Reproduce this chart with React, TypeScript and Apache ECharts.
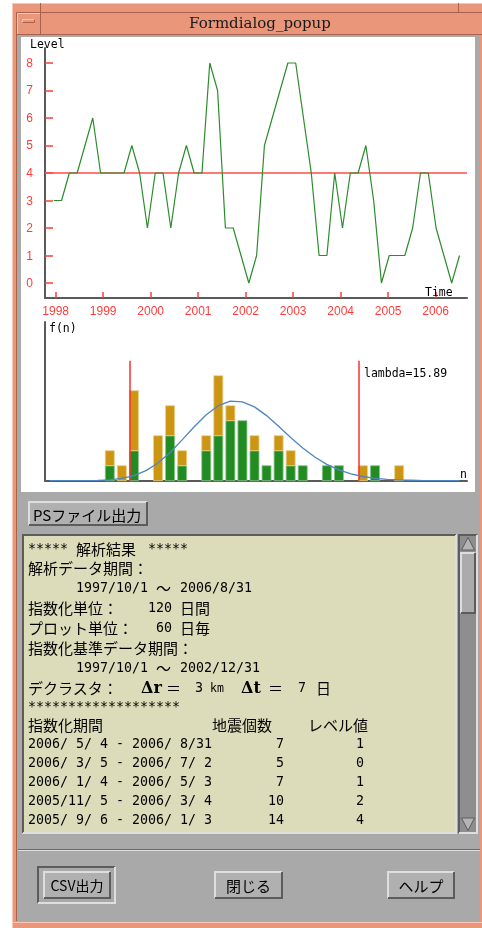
import React, { useEffect, useRef } from "react";
import * as echarts from "echarts";

// ---------------- data ----------------
const plotDates = [
  "1997-12-17", "1998-02-15", "1998-04-16", "1998-06-15", "1998-08-14", "1998-10-13", "1998-12-12",
  "1999-02-10", "1999-04-11", "1999-06-10", "1999-08-09", "1999-10-08", "1999-12-07",
  "2000-02-05", "2000-04-05", "2000-06-04", "2000-08-03", "2000-10-02", "2000-12-01",
  "2001-01-30", "2001-03-31", "2001-05-30", "2001-07-29", "2001-09-27", "2001-11-26",
  "2002-01-25", "2002-03-26", "2002-05-25", "2002-07-24", "2002-09-22", "2002-11-21",
  "2003-01-20", "2003-03-21", "2003-05-20", "2003-07-19", "2003-09-17", "2003-11-16",
  "2004-01-15", "2004-03-15", "2004-05-14", "2004-07-13", "2004-09-11", "2004-11-10",
  "2005-01-09", "2005-03-10", "2005-05-09", "2005-07-08", "2005-09-06", "2005-11-05",
  "2006-01-04", "2006-03-05", "2006-05-04", "2006-07-03",
];
const levelValues = [
  3, 3, 4, 4, 5, 6, 4,
  4, 4, 4, 5, 4, 2,
  4, 4, 2, 4, 5, 4,
  4, 8, 7, 2, 2, 1,
  0, 1, 5, 6, 7, 8,
  8, 6, 4, 1, 1, 4,
  2, 4, 4, 5, 3, 0,
  1, 1, 1, 2, 4, 4,
  2, 1, 0, 1,
];
const levelTicks = [0, 1, 2, 3, 4, 5, 6, 7, 8];
const yearTicks = [1998, 1999, 2000, 2001, 2002, 2003, 2004, 2005, 2006];
const baseLevel = 4;

const histN = [5, 6, 7, 9, 10, 11, 13, 14, 15, 16, 17, 18, 19, 20, 21, 23, 24, 26, 27, 29];
const histRef = [1, 0, 2, 0, 3, 1, 2, 3, 4, 4, 2, 1, 2, 1, 1, 1, 1, 0, 1, 0];
const histLater = [1, 1, 4, 3, 2, 1, 1, 4, 1, 0, 1, 0, 1, 1, 0, 0, 0, 1, 0, 1];
const fitN = [0, 1, 2, 3, 4, 5, 6, 7, 8, 9, 10, 11, 12, 13, 14, 15, 16, 17, 18, 19, 20, 21, 22, 23, 24, 25, 26, 27, 28, 29, 30, 31, 32, 33, 34];
const fitF = [0, 0, 0, 0, 0.02, 0.06, 0.15, 0.34, 0.67, 1.18, 1.88, 2.72, 3.6, 4.4, 5.0, 5.3, 5.26, 4.92, 4.34, 3.63, 2.88, 2.18, 1.58, 1.09, 0.72, 0.46, 0.28, 0.16, 0.09, 0.05, 0.03, 0.01, 0.01, 0, 0];
const thresholdN = [7, 26];
const thresholdHeight = 8;
const lambdaValue = 15.89;

const tablePeriods = [
  "2006/ 5/ 4 - 2006/ 8/31",
  "2006/ 3/ 5 - 2006/ 7/ 2",
  "2006/ 1/ 4 - 2006/ 5/ 3",
  "2005/11/ 5 - 2006/ 3/ 4",
  "2005/ 9/ 6 - 2006/ 1/ 3",
];
const tableCounts = [7, 5, 7, 10, 14];
const tableLevels = [1, 0, 1, 2, 4];

const headerLines = [
  "***** 解析結果 *****",
  "解析データ期間：",
  "      1997/10/1 ～ 2006/8/31",
  "指数化単位：   120 日間",
  "プロット単位：  60 日毎",
  "指数化基準データ期間：",
  "      1997/10/1 ～ 2002/12/31",
];
const starLine = "*******************";
const tableHeader = "指数化期間             地震個数    レベル値";

// ---------------- style ----------------
const SALMON = "#E9967A";
const SALMON_LIGHT = "#F7C7B3";
const SALMON_DARK = "#A8614A";
const GRAY = "#A9A9A9";
const LIGHT = "#DEDEDE";
const DARK = "#5C5C5C";
const TEXTBG = "#DCDCBB";
const MONO = "'DejaVu Sans Mono', monospace";
const CJK = "'Noto Sans CJK JP', sans-serif";
const RED = "#FF3B3B";
const BAR_SPAN = 0.75;

function toYear(s: string) {
  const [y, m, d] = s.split("-").map(Number);
  const a = Date.UTC(y, 0, 1);
  const b = Date.UTC(y + 1, 0, 1);
  return y + (Date.UTC(y, m - 1, d) - a) / (b - a);
}

function txt(text: string, x: number, y: number, o: any = {}) {
  const align = o.align || "left";
  return {
    type: "text",
    z: 20,
    silent: true,
    style: {
      text,
      x,
      y,
      fill: o.color || "#000",
      fontSize: o.fontSize || 13.3,
      fontFamily: o.fontFamily || MONO,
      fontWeight: o.fontWeight || "normal",
      align,
      verticalAlign: "middle",
      textAlign: align,
      textVerticalAlign: "middle",
    },
  };
}

function rect(x: number, y: number, w: number, h: number, fill: string, z = -20) {
  return { type: "rect", z, silent: true, shape: { x, y, width: w, height: h }, style: { fill } };
}

function pl(points: number[][], stroke: string, lw = 1, z = -15) {
  return { type: "polyline", z, silent: true, shape: { points }, style: { stroke, lineWidth: lw, fill: "none" } };
}

function bevel(x: number, y: number, w: number, h: number, raised: boolean, face: string | null, z = -18) {
  const tl = raised ? LIGHT : DARK;
  const br = raised ? DARK : LIGHT;
  const els: any[] = [];
  if (face) els.push(rect(x, y, w, h, face, z));
  els.push(pl([[x + 1, y + h - 1], [x + 1, y + 1], [x + w - 1, y + 1]], tl, 2, z + 1));
  els.push(pl([[x + w - 1, y + 1], [x + w - 1, y + h - 1], [x + 1, y + h - 1]], br, 2, z + 1));
  return els;
}

const CELL = 8;
const TX0 = 28;

function gridText(line: string, y: number, els: any[]) {
  let col = 0;
  let runStart = 0;
  let run = "";
  let runWide: boolean | null = null;
  const flush = () => {
    if (!run) return;
    if (runWide) {
      els.push(txt(run, TX0 + runStart * CELL, y, { fontFamily: CJK, fontSize: 15 }));
    } else {
      // split on runs of 2+ spaces, keep column positions
      const re = /\S+(?: \S+)*/g;
      let m: RegExpExecArray | null;
      while ((m = re.exec(run))) {
        els.push(txt(m[0], TX0 + (runStart + m.index) * CELL, y, { fontFamily: MONO, fontSize: 13.3 }));
      }
    }
    run = "";
  };
  for (const ch of line) {
    const wide = ch.charCodeAt(0) > 0x7f;
    if (wide !== runWide) {
      flush();
      runWide = wide;
      runStart = col;
    }
    run += ch;
    col += wide ? 2 : 1;
  }
  flush();
}

function buildGraphic() {
  const els: any[] = [];
  // page and window frame
  els.push(rect(0, 0, 482, 928, "#ffffff", -30));
  els.push(rect(12, 3, 470, 925, SALMON, -29));
  els.push(pl([[12.5, 928], [12.5, 3.5], [482, 3.5]], SALMON_LIGHT, 1, -28));
  els.push(pl([[16.5, 921], [16.5, 12.5], [482, 12.5]], SALMON_DARK, 1, -28));
  els.push(pl([[40.5, 3], [40.5, 12]], SALMON_DARK, 1, -28));
  els.push(pl([[458.5, 3], [458.5, 12]], SALMON_DARK, 1, -28));
  els.push(pl([[17, 34.5], [482, 34.5]], SALMON_DARK, 1, -28));
  els.push(pl([[13, 922.5], [482, 922.5]], SALMON_LIGHT, 1, -28));
  // menu button
  els.push(pl([[40.5, 13], [40.5, 34]], SALMON_DARK, 1, -27));
  els.push(pl([[17.5, 34], [17.5, 13.5], [40, 13.5]], SALMON_LIGHT, 1, -27));
  els.push(rect(22, 19, 13, 4, SALMON, -26));
  els.push(pl([[22.5, 23], [22.5, 19.5], [35, 19.5]], SALMON_LIGHT, 1, -25));
  els.push(pl([[34.5, 19.5], [34.5, 22.5], [22.5, 22.5]], SALMON_DARK, 1, -25));
  // title
  els.push(txt("Formdialog_popup", 260, 23, { fontFamily: "'DejaVu Serif', serif", fontSize: 15, align: "center", color: "#1a1a1a" }));

  // dialog gray area
  els.push(rect(17, 35, 463, 886, GRAY, -26));
  // chart panel
  els.push(rect(21, 37, 454, 455, "#ffffff", -24));

  // PS button
  els.push(...bevel(28, 501, 120, 25, true, "#B0B0B0"));
  els.push(txt("PSファイル出力", 33, 514, { fontFamily: CJK, fontSize: 15 }));

  // text area
  els.push(...bevel(22, 534, 435, 300, false, TEXTBG));
  // scrollbar
  els.push(...bevel(458, 534, 20, 300, false, "#8E8E8E"));
  els.push({ type: "polygon", z: -14, silent: true, shape: { points: [[461.5, 550], [468, 537.5], [474.5, 550]] }, style: { fill: "#B4B4B4", stroke: DARK, lineWidth: 1 } });
  els.push(...bevel(460, 552, 16, 62, true, "#ABABAB", -14));
  els.push({ type: "polygon", z: -14, silent: true, shape: { points: [[461.5, 818], [474.5, 818], [468, 830.5]] }, style: { fill: "#B4B4B4", stroke: DARK, lineWidth: 1 } });

  // separator
  els.push(pl([[18, 849.5], [480, 849.5]], "#6A6A6A", 1, -15));
  els.push(pl([[18, 850.5], [480, 850.5]], LIGHT, 1, -15));

  // bottom buttons
  els.push(...bevel(37, 866, 79, 38, false, null, -16));
  els.push(...bevel(43, 871, 68, 28, true, "#B0B0B0"));
  els.push(txt("CSV出力", 77, 885, { fontFamily: CJK, fontSize: 14, align: "center" }));
  els.push(...bevel(214, 871, 69, 28, true, "#B0B0B0"));
  els.push(txt("閉じる", 248.5, 885, { fontFamily: CJK, fontSize: 15, align: "center" }));
  els.push(...bevel(387, 871, 68, 28, true, "#B0B0B0"));
  els.push(txt("ヘルプ", 421, 885, { fontFamily: CJK, fontSize: 15, align: "center" }));

  // text area content
  const ys = [548, 567, 587, 607, 627, 647, 667];
  headerLines.forEach((l, i) => gridText(l, ys[i], els));
  // declustering line
  const yD = 687;
  gridText("デクラスタ：", yD, els);
  els.push(txt("Δr", 141, yD, { fontFamily: "'DejaVu Serif', serif", fontSize: 16, fontWeight: "bold" }));
  els.push(txt("＝", 166, yD, { fontFamily: CJK, fontSize: 15 }));
  els.push(txt("3", 195, yD, { fontFamily: MONO, fontSize: 13.3 }));
  els.push(txt("km", 210, yD + 1, { fontFamily: MONO, fontSize: 11.5 }));
  els.push(txt("Δt", 241, yD, { fontFamily: "'DejaVu Serif', serif", fontSize: 16, fontWeight: "bold" }));
  els.push(txt("＝", 268, yD, { fontFamily: CJK, fontSize: 15 }));
  els.push(txt("7", 298, yD, { fontFamily: MONO, fontSize: 13.3 }));
  els.push(txt("日", 316, yD, { fontFamily: CJK, fontSize: 15 }));
  gridText(starLine, 706, els);
  gridText(tableHeader, 724, els);
  const rowY = [743, 762, 781, 800, 819];
  tablePeriods.forEach((p, i) => {
    els.push(txt(p, TX0, rowY[i], { fontFamily: MONO, fontSize: 13.3 }));
    els.push(txt(String(tableCounts[i]), 284, rowY[i], { fontFamily: MONO, fontSize: 13.3, align: "right" }));
    els.push(txt(String(tableLevels[i]), 364, rowY[i], { fontFamily: MONO, fontSize: 13.3, align: "right" }));
  });

  // chart labels
  els.push(txt("Level", 30, 44, { fontFamily: MONO, fontSize: 11.5 }));
  els.push(txt("Time", 425, 292, { fontFamily: MONO, fontSize: 11.5 }));
  els.push(txt("f(n)", 49, 328, { fontFamily: MONO, fontSize: 11.5 }));
  els.push(txt("n", 460, 474, { fontFamily: MONO, fontSize: 11.5 }));
  els.push(txt("lambda=" + lambdaValue.toFixed(2), 364, 373, { fontFamily: MONO, fontSize: 11.5 }));
  return els;
}

function buildOption(): any {
  const lineData = plotDates.map((d, i) => [toYear(d), levelValues[i]]);
  const barData = histN.map((n, i) => [n, histRef[i], histLater[i]]);
  const fitData = fitN.map((n, i) => [n + BAR_SPAN / 2, fitF[i]]);
  const axisLineStyle = { color: "#5a5a5a", width: 2 };
  return {
    animation: false,
    backgroundColor: "transparent",
    grid: [
      { left: 45, top: 48, width: 422, height: 250 },
      { left: 45, top: 322, width: 422, height: 158.7 },
    ],
    xAxis: [
      {
        type: "value",
        gridIndex: 0,
        min: 1997.775,
        max: 2006.659,
        axisLine: { show: true, onZero: false, lineStyle: axisLineStyle },
        axisTick: { show: true, inside: true, length: 6, customValues: yearTicks, lineStyle: { color: RED, width: 1.5 } },
        axisLabel: {
          show: true,
          customValues: yearTicks,
          color: RED,
          fontSize: 12,
          fontFamily: "'Liberation Sans', sans-serif",
          margin: 7,
          formatter: (v: number) => String(Math.round(v)),
        },
        splitLine: { show: false },
      },
      {
        type: "value",
        gridIndex: 1,
        min: 0,
        max: 35,
        axisLine: { show: true, onZero: false, lineStyle: axisLineStyle },
        axisTick: { show: false },
        axisLabel: { show: false },
        splitLine: { show: false },
      },
    ],
    yAxis: [
      {
        type: "value",
        gridIndex: 0,
        min: -0.545,
        max: 8.545,
        axisLine: { show: true, onZero: false, lineStyle: axisLineStyle },
        axisTick: { show: true, inside: true, length: 8, customValues: levelTicks, lineStyle: { color: RED, width: 1.5 } },
        axisLabel: {
          show: true,
          customValues: levelTicks,
          color: RED,
          fontSize: 12,
          fontFamily: "'Liberation Sans', sans-serif",
          margin: 12,
        },
        splitLine: { show: false },
      },
      {
        type: "value",
        gridIndex: 1,
        min: 0,
        max: 10.58,
        axisLine: { show: true, onZero: false, lineStyle: axisLineStyle },
        axisTick: { show: false },
        axisLabel: { show: false },
        splitLine: { show: false },
      },
    ],
    series: [
      {
        type: "line",
        xAxisIndex: 0,
        yAxisIndex: 0,
        data: lineData,
        symbol: "none",
        z: 5,
        lineStyle: { color: "#2C8C2C", width: 1.2 },
        markLine: {
          silent: true,
          symbol: ["none", "none"],
          label: { show: false },
          lineStyle: { color: "#FF4A4A", width: 1.6, type: "solid" },
          data: [{ yAxis: baseLevel }],
        },
      },
      {
        type: "custom",
        xAxisIndex: 1,
        yAxisIndex: 1,
        data: barData,
        z: 3,
        encode: { x: 0, y: [1, 2] },
        renderItem: (_p: any, api: any) => {
          const n = api.value(0);
          const g = api.value(1);
          const o = api.value(2);
          const p0 = api.coord([n, 0]);
          const p1 = api.coord([n + BAR_SPAN, 0]);
          const pg = api.coord([n, g]);
          const pt = api.coord([n, g + o]);
          const w = p1[0] - p0[0];
          const children: any[] = [];
          if (g > 0)
            children.push({
              type: "rect",
              shape: { x: p0[0], y: pg[1], width: w, height: p0[1] - pg[1] },
              style: { fill: "#228B22", stroke: "#8CC68C", lineWidth: 0.8 },
            });
          if (o > 0)
            children.push({
              type: "rect",
              shape: { x: p0[0], y: pt[1], width: w, height: pg[1] - pt[1] },
              style: { fill: "#CC9512", stroke: "#EACF8C", lineWidth: 0.8 },
            });
          return { type: "group", children };
        },
      },
      {
        type: "line",
        xAxisIndex: 1,
        yAxisIndex: 1,
        data: fitData,
        symbol: "none",
        z: 6,
        lineStyle: { color: "#4F86BF", width: 1.3 },
        markLine: {
          silent: true,
          symbol: ["none", "none"],
          label: { show: false },
          lineStyle: { color: "#FF2E2E", width: 1.5, type: "solid" },
          data: thresholdN.map((n) => [{ coord: [n, 0] }, { coord: [n, thresholdHeight] }]),
        },
      },
    ],
    graphic: { elements: buildGraphic() },
  };
}

export default function App() {
  const ref = useRef<HTMLDivElement>(null);
  useEffect(() => {
    if (!ref.current) return;
    const chart = echarts.init(ref.current, null, { renderer: "svg", width: 482, height: 928 });
    chart.setOption(buildOption());
    return () => chart.dispose();
  }, []);
  return <div ref={ref} style={{ position: "fixed", left: 0, top: 0, width: 482, height: 928 }} />;
}
